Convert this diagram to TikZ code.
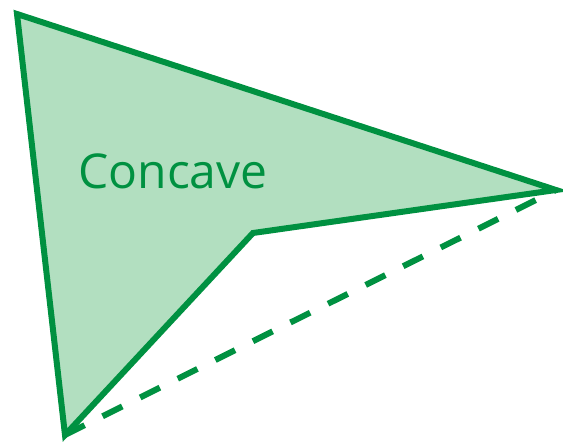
\documentclass[tikz,border=0pt]{standalone}
\usepackage{fontspec}
\setmainfont{Open Sans}
\definecolor{cvvert}{RGB}{0,145,65}
\definecolor{cvfond}{RGB}{178,223,192}

\begin{document}
\begin{tikzpicture}[x=0.5pt, y=-0.5pt,
  bord/.style={draw=cvvert, line width=3pt, line join=miter},
  pointille/.style={cvvert, line width=3pt, dash pattern=on 11pt off 10pt},
  etiquette/.style={text=cvvert, font=\fontsize{24}{28}\selectfont, inner sep=0pt}]

  \useasboundingbox (0,0) rectangle (563,448);

  % sommets du polygone
  \coordinate (haut) at (17,14);
  \coordinate (pointe) at (556,190);
  \coordinate (creux) at (253,233);
  \coordinate (bas) at (65,435);

  \filldraw[bord, fill=cvfond] (haut) -- (pointe) -- (creux) -- (bas) -- cycle;
  \draw[pointille] (bas) -- (pointe);

  \node[etiquette] (nom) at (173,171) {Concave};
\end{tikzpicture}
\end{document}
